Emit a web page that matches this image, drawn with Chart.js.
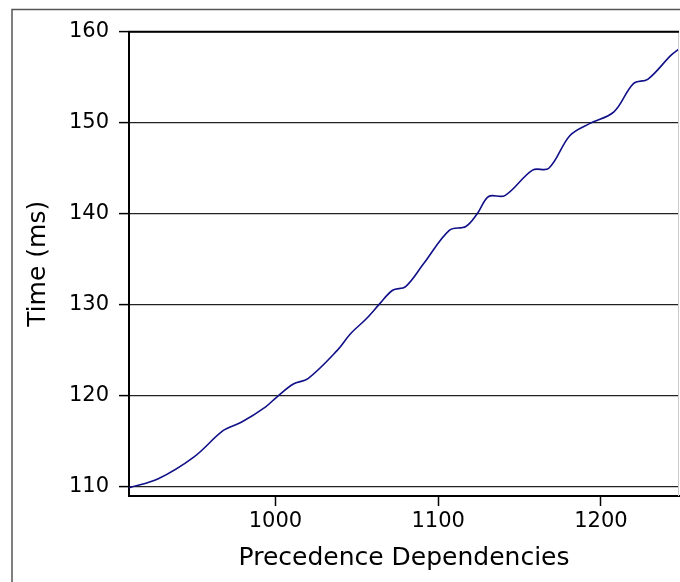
<!DOCTYPE html>
<html>
<head>
<meta charset="utf-8">
<script src="https://cdn.jsdelivr.net/npm/chart.js@4/dist/chart.umd.min.js"></script>
<style>
  html, body { margin: 0; padding: 0; background: #fff; overflow: hidden; }
  #wrap { width: 680px; height: 582px; position: relative; }
</style>
</head>
<body>
<div id="wrap"><canvas id="myChart" width="680" height="582"></canvas></div>
<script>
// values
var deps  = [910, 928, 950, 968, 979, 994, 1001, 1011, 1020, 1038, 1046, 1056, 1064, 1072, 1080, 1091, 1107, 1117, 1124, 1131, 1141, 1158, 1168, 1181, 1193, 1208, 1220, 1229, 1243, 1248];
var times = [109.9, 110.9, 113.3, 116.2, 117.1, 118.8, 119.9, 121.3, 121.9, 125.0, 126.8, 128.5, 130.1, 131.6, 132.0, 134.5, 138.2, 138.6, 140.0, 141.9, 142.0, 144.8, 145.0, 148.6, 149.9, 151.2, 154.3, 154.8, 157.4, 158.1];
var xTicks = [1000, 1100, 1200];
var yTicks = [110, 120, 130, 140, 150, 160];

var points = deps.map(function (d, i) { return { x: d, y: times[i] }; });

// frame round the figure, plus top / right sides of the plot box
var framePlugin = {
  id: 'frame',
  beforeDraw: function (chart) {
    var c = chart.ctx;
    c.save();
    c.fillStyle = '#fff';
    c.fillRect(0, 0, chart.width, chart.height);
    c.strokeStyle = '#555';
    c.lineWidth = 1.5;
    c.beginPath();
    c.moveTo(12, 582);
    c.lineTo(12, 9.5);
    c.lineTo(680, 9.5);
    c.stroke();
    c.restore();
  },
  afterDraw: function (chart) {
    var a = chart.chartArea, c = chart.ctx;
    c.save();
    c.strokeStyle = '#ccc';
    c.lineWidth = 1;
    c.beginPath();
    c.moveTo(a.right - 0.5, a.top);
    c.lineTo(a.right - 0.5, a.bottom);
    c.stroke();
    c.strokeStyle = '#000';
    c.lineWidth = 2;
    c.beginPath();
    c.moveTo(a.left - 1, a.top);
    c.lineTo(a.right, a.top);
    c.stroke();
    c.restore();
  }
};

var ctx = document.getElementById('myChart');
var myChart = new Chart(ctx, {
  type: 'line',
  data: {
    datasets: [{
      label: 'Time',
      data: points,
      borderColor: '#101088',
      borderWidth: 1.6,
      pointRadius: 0,
      fill: false,
      tension: 0.35
    }]
  },
  options: {
    responsive: false,
    animation: false,
    events: [],
    layout: { padding: { top: 31.7, right: 1, bottom: 0, left: 0 } },
    plugins: { legend: { display: false }, tooltip: { enabled: false } },
    scales: {
      x: {
        type: 'linear',
        min: 910,
        max: 1248,
        afterBuildTicks: function (s) { s.ticks = xTicks.map(function (v) { return { value: v }; }); },
        afterFit: function (s) { s.height = 86; },
        grid: { drawOnChartArea: false, drawTicks: true, tickLength: 10, tickColor: '#000', tickWidth: 1.5 },
        border: { display: true, color: '#000', width: 2 },
        ticks: { color: '#000', padding: 3, maxRotation: 0, font: { family: 'DejaVu Sans', size: 21 },
                 callback: function (v) { return String(v); } },
        title: { display: true, text: 'Precedence Dependencies', color: '#000', padding: { top: 0, bottom: 9 },
                 font: { family: 'DejaVu Sans', size: 25 } }
      },
      y: {
        min: 109,
        max: 160,
        afterBuildTicks: function (s) { s.ticks = yTicks.map(function (v) { return { value: v }; }); },
        afterFit: function (s) { s.width = 129; },
        grid: { color: '#222', lineWidth: 1.2, drawTicks: true, tickLength: 10, tickColor: '#000', tickWidth: 1.5 },
        border: { display: true, color: '#000', width: 2 },
        ticks: { color: '#000', padding: 10, font: { family: 'DejaVu Sans', size: 21 },
                 callback: function (v) { return String(v); } },
        title: { display: true, text: 'Time (ms)', color: '#000', padding: { top: 23, bottom: 0 },
                 font: { family: 'DejaVu Sans', size: 25 } }
      }
    }
  },
  plugins: [framePlugin]
});
</script>
</body>
</html>
